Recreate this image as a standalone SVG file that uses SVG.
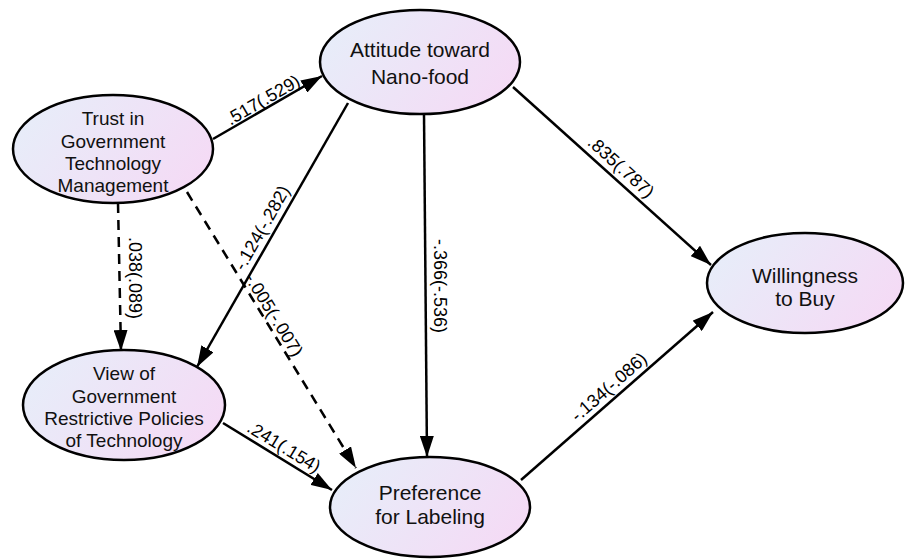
<svg xmlns="http://www.w3.org/2000/svg" width="906" height="560" viewBox="0 0 906 560">
<defs>
<linearGradient id="g" x1="0" y1="0.3" x2="1" y2="0.7">
<stop offset="0" stop-color="#e7edf9"/>
<stop offset="1" stop-color="#f5daf5"/>
</linearGradient>
<marker id="ah" markerUnits="userSpaceOnUse" markerWidth="22" markerHeight="14" refX="21" refY="7" orient="auto">
<path d="M0,0 L21,7 L0,14 z" fill="#000"/>
</marker>
<style>
.n{fill:url(#g);stroke:#000;stroke-width:2.5}
.t{font-family:"Liberation Sans",Arial,sans-serif;font-size:19px;text-anchor:middle;fill:#111}
.b{font-size:21px}
.e{stroke:#000;stroke-width:2.5;fill:none;marker-end:url(#ah)}
.d{stroke-dasharray:10 7}
.l{font-family:"Liberation Sans",Arial,sans-serif;font-size:18px;text-anchor:middle;fill:#000}
</style>
</defs>
<rect width="906" height="560" fill="#fff"/>
<g id="connectors">
<path class="e" d="M213,139 L322,76"/>
<path class="e" d="M513,87 L711,265"/>
<path class="e" d="M424,114 L427,457"/>
<path class="e d" d="M118,203 L121,351"/>
<path class="e d" d="M187,192 L356,468"/>
<path class="e" d="M348,103 L197,367"/>
<path class="e" d="M223,423 L332,490"/>
<path class="e" d="M521,480 L713,312"/>
<text class="l" transform="translate(263,100) rotate(-30)" y="6">.517(.529)</text>
<text class="l" transform="translate(621,167) rotate(42)" y="6">.835(.787)</text>
<text class="l" transform="translate(440,286) rotate(90)" y="6">-.366(-.536)</text>
<text class="l" transform="translate(135,278) rotate(90)" y="6">.038(.089)</text>
<text class="l" transform="translate(274,315) rotate(58.5)" y="6">-.005(-.007)</text>
<text class="l" transform="translate(262,228) rotate(-60.3)" y="6">-.124(-.282)</text>
<text class="l" transform="translate(284,447) rotate(31.3)" y="6">.241(.154)</text>
<text class="l" transform="translate(609,387) rotate(-41.2)" y="6">-.134(-.086)</text>
</g>
<g id="attitude">
<ellipse class="n" cx="420" cy="62" rx="100" ry="52"/>
<text class="t b" x="420" y="57">Attitude toward</text>
<text class="t b" x="420" y="84">Nano-food</text>
</g>
<g id="trust">
<ellipse class="n" cx="113" cy="149" rx="100" ry="54"/>
<text class="t" x="113" y="125">Trust in</text>
<text class="t" x="113" y="148">Government</text>
<text class="t" x="113" y="170">Technology</text>
<text class="t" x="113" y="192">Management</text>
</g>
<g id="view">
<ellipse class="n" cx="124" cy="405" rx="101" ry="55"/>
<text class="t" x="124" y="380">View of</text>
<text class="t" x="124" y="403">Government</text>
<text class="t" x="124" y="425">Restrictive Policies</text>
<text class="t" x="124" y="447">of Technology</text>
</g>
<g id="willingness">
<ellipse class="n" cx="805" cy="283" rx="98" ry="50"/>
<text class="t b" x="805" y="283">Willingness</text>
<text class="t b" x="805" y="306">to Buy</text>
</g>
<g id="preference">
<ellipse class="n" cx="430" cy="507" rx="100" ry="50"/>
<text class="t b" x="430" y="500">Preference</text>
<text class="t b" x="430" y="524">for Labeling</text>
</g>
</svg>
